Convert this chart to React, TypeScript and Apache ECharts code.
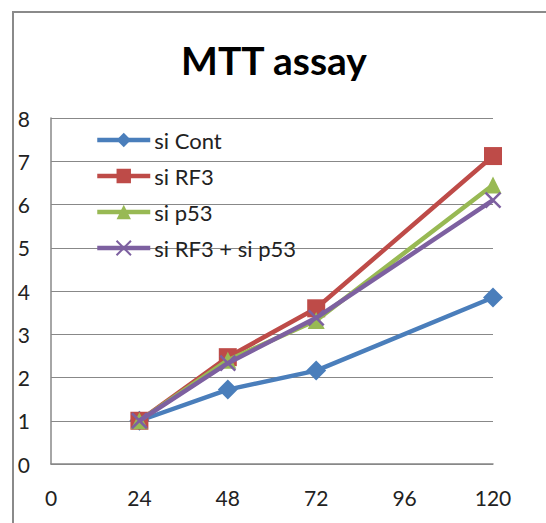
import React, { useEffect, useRef } from "react";
import * as echarts from "echarts";

const hours = [24, 48, 72, 120];
const siCont = [1, 1.72, 2.16, 3.85];
const siRF3 = [1, 2.47, 3.6, 7.12];
const siP53 = [1, 2.4, 3.32, 6.45];
const siRF3P53 = [1, 2.33, 3.38, 6.1];
const seriesNames = ["si Cont", "si RF3", "si p53", "si RF3 + si p53"];
const colors = ["#4A7EBB", "#BE4B48", "#98B954", "#7D60A0"];

const FONT = "Lato, 'Liberation Sans', sans-serif";

export default function App() {
  const ref = useRef<HTMLDivElement>(null);
  useEffect(() => {
    const chart = echarts.init(ref.current!, null, { renderer: "svg" });
    const mk = (vals: number[]) => hours.map((h, i) => [h, vals[i]]);
    const symbols = [
      "diamond",
      "rect",
      "triangle",
      "path://M0,0L10,10M10,0L0,10",
    ];
    const sizes = [[20, 20], 18, 17, 15];
    const all = [siCont, siRF3, siP53, siRF3P53];
    chart.setOption({
      animation: false,
      backgroundColor: "#fff",
      title: {
        text: "MTT assay",
        left: 269,
        top: 32,
        textAlign: "center",
        textStyle: { fontFamily: FONT, fontSize: 39, fontWeight: "bold", color: "#000", lineHeight: 46 },
      },
      legend: {
        orient: "vertical",
        left: 90,
        top: 124,
        itemWidth: 53,
        itemHeight: 18,
        itemGap: 14,
        data: seriesNames,
        lineStyle: { width: 4.5 },
        textStyle: { fontFamily: FONT, fontSize: 22, color: "#222", lineHeight: 20, padding: [0, 0, 0, -1] },
      },
      grid: { left: 51, right: 53, top: 118, bottom: 59, containLabel: false },
      xAxis: {
        type: "value",
        min: 0,
        max: 120,
        interval: 24,
        axisLine: { show: true, lineStyle: { color: "#888", width: 1.5 } },
        axisTick: { show: false },
        splitLine: { show: false },
        axisLabel: { margin: 23, fontFamily: FONT, fontSize: 21, color: "#222" },
      },
      yAxis: {
        type: "value",
        min: 0,
        max: 8,
        interval: 1,
        axisLine: { show: true, lineStyle: { color: "#888", width: 1.5 } },
        axisTick: { show: false },
        splitLine: { show: true, lineStyle: { color: "#888", width: 1.2 } },
        axisLabel: { margin: 21, fontFamily: FONT, fontSize: 21, color: "#222", align: "right" },
      },
      graphic: [
        {
          type: "rect",
          shape: { x: 13, y: 12, width: 700, height: 700 },
          style: { fill: "none", stroke: "#8a8a8a", lineWidth: 2 },
          silent: true,
        },
      ],
      series: all.map((vals, i) => ({
        name: seriesNames[i],
        type: "line",
        data: mk(vals),
        symbol: symbols[i],
        symbolSize: sizes[i],
        showSymbol: true,
        lineStyle: { color: colors[i], width: 4.5 },
        itemStyle:
          i === 3
            ? { color: colors[i], borderColor: colors[i], borderWidth: 2.5 }
            : { color: colors[i], borderColor: colors[i], borderWidth: 0 },
        z: 2 + i,
      })),
    });
    return () => chart.dispose();
  }, []);
  return (
    <div
      ref={ref}
      style={{ position: "absolute", left: 0, top: 0, width: 546, height: 523 }}
    />
  );
}
